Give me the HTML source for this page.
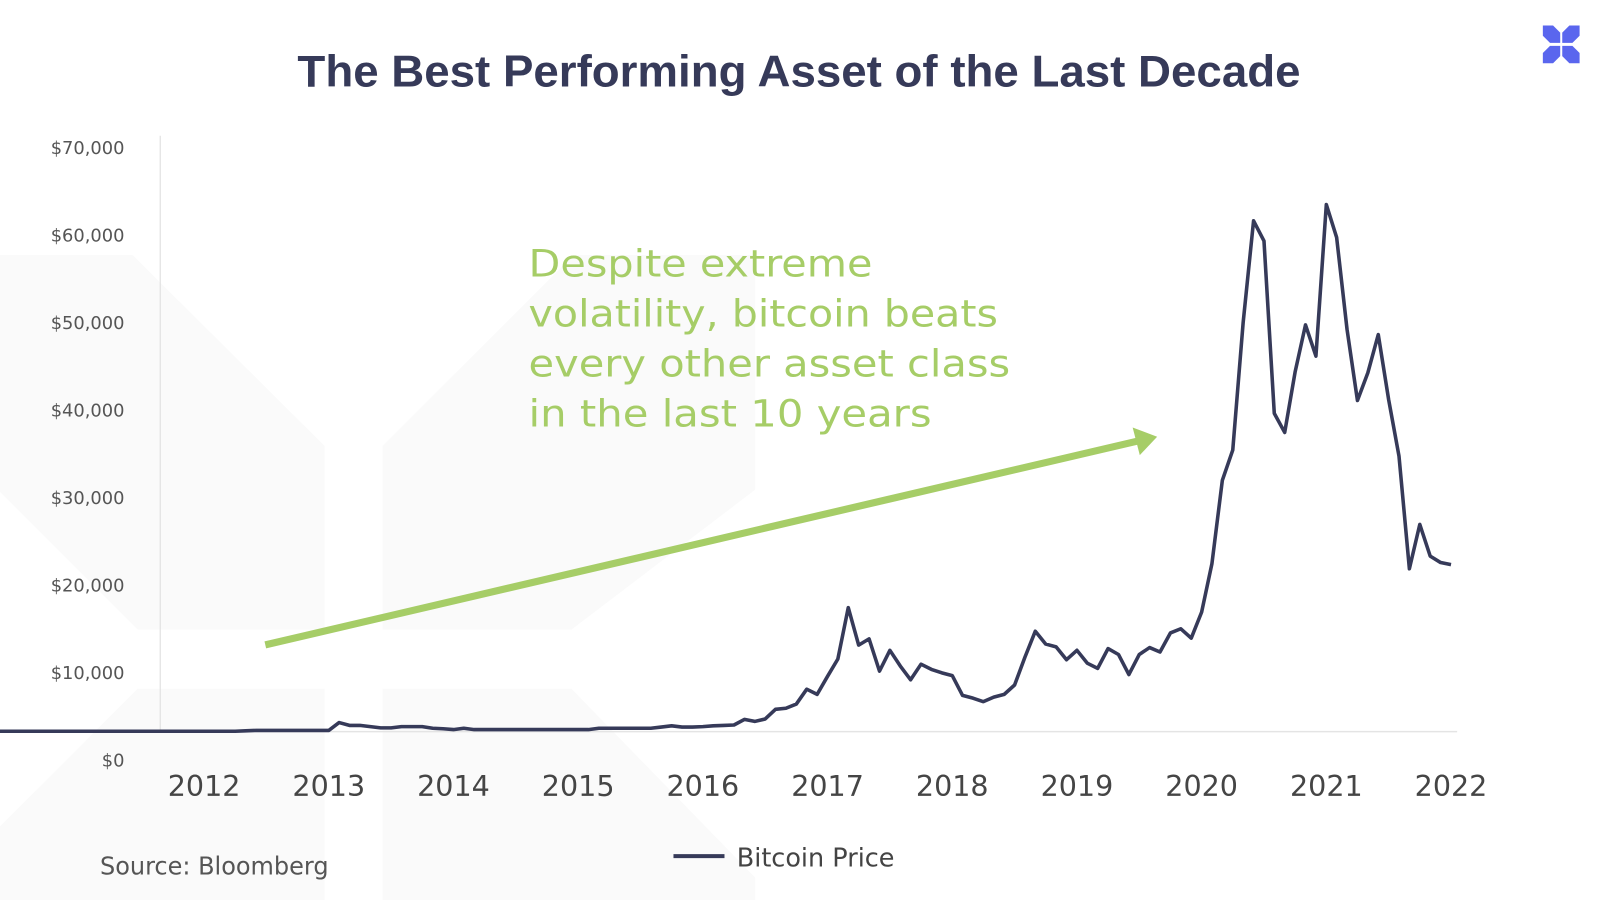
<!DOCTYPE html>
<html><head><meta charset="utf-8"><style>
html,body{margin:0;padding:0;background:#fff;}
svg{display:block;}
</style></head><body>
<svg id="chart" width="1600" height="900" viewBox="0 0 1568 882" xmlns="http://www.w3.org/2000/svg">
<g fill="#fafafa">
  <polygon points="0,250 130,250 318,437 318,617 135,617 0,482"/>
  <polygon points="375,437 562,250 740,250 740,480 560,617 375,617"/>
  <polygon points="135,675 318,675 318,882 0,882 0,810"/>
  <polygon points="375,675 560,675 740,860 740,882 375,882"/>
</g>
<text x="783" y="85" text-anchor="middle" font-family="Liberation Sans, sans-serif" font-weight="bold" font-size="44" fill="#363a59" textLength="983" lengthAdjust="spacingAndGlyphs">The Best Performing Asset of the Last Decade</text>
<g fill="#5a66ee">
  <polygon points="1512,25 1522,25 1529,32 1529,42 1519,42 1512,35"/>
  <polygon points="1548,25 1538,25 1531,32 1531,42 1541,42 1548,35"/>
  <polygon points="1512,62 1522,62 1529,55 1529,45 1519,45 1512,52"/>
  <polygon points="1548,62 1538,62 1531,55 1531,45 1541,45 1548,52"/>
</g>
<line x1="157" y1="133" x2="157" y2="717" stroke="#dddddd" stroke-width="1"/>
<line x1="0" y1="717" x2="1428" y2="717" stroke="#e4e4e4" stroke-width="1.5"/>
<g id="yticks"></g>
<g id="xticks"></g>
<g font-family="DejaVu Sans, sans-serif" font-size="37" fill="#a6cd67">
  <text x="518" y="271" textLength="337" lengthAdjust="spacingAndGlyphs">Despite extreme</text>
  <text x="518" y="320" textLength="460" lengthAdjust="spacingAndGlyphs">volatility, bitcoin beats</text>
  <text x="518" y="369" textLength="472" lengthAdjust="spacingAndGlyphs">every other asset class</text>
  <text x="518" y="418" textLength="395" lengthAdjust="spacingAndGlyphs">in the last 10 years</text>
</g>
<g>
  <line x1="260" y1="632" x2="1116" y2="432" stroke="#a6cd67" stroke-width="7"/>
  <polygon points="1134,428 1110,419 1117,446" fill="#a6cd67"/>
</g>
<path id="series" fill="none" stroke="#363a59" stroke-width="3.5" stroke-linejoin="round"/>
<g>
  <line x1="660" y1="839" x2="710" y2="839" stroke="#363a59" stroke-width="4"/>
  <text x="722" y="849" font-family="DejaVu Sans, sans-serif" font-size="25" fill="#444">Bitcoin Price</text>
</g>
<text x="98" y="857" font-family="DejaVu Sans, sans-serif" font-size="24" fill="#555" textLength="224" lengthAdjust="spacingAndGlyphs">Source: Bloomberg</text>
</svg>
<script>
// Monthly series starting May 2010 (price in $k, chart units)
const startYear = 2010.333;
const early = [0.05,0.05,0.05,0.05,0.05,0.05,0.05,0.05,0.05,0.05,0.05,0.05,0.05,0.05,0.05,0.05,0.05,0.05,0.05,0.05,0.05,0.05,0.05,0.05,0.1,
  0.15,0.15,0.15,0.15,0.15,0.15,0.15,0.15,
  1.1,0.75,0.75,0.6,0.45,0.45,0.6,0.6,0.6,0.4,0.35,0.25,0.4,0.25,
  0.25,0.25,0.25,0.25,0.25,0.25,0.25,0.25,0.25,0.25,0.25,
  0.4,0.4,0.4,0.4,0.4,0.4,0.55,0.7,0.55,0.55,0.6,0.7,0.75,0.8];
const late = [1.48,1.23,1.53,2.69,2.82,3.32,5.12,4.49,6.67,8.76,14.94,10.43,11.18,7.29,9.80,7.92,6.25,8.13,7.50,7.08,6.75,4.37,4.03,3.62,4.16,4.49,5.62,8.97,12.10,10.55,10.22,8.67,9.80,8.25,7.63,10.01,9.30,6.88,9.30,10.14,9.59,11.89,12.40,11.27,14.40,20.26,30.30,33.94,49.32,61.57,59.15,38.36,36.06,43.34,49.03,45.26,63.54,59.57,48.49,39.91,43.26,47.86,40.00,33.22,19.63,24.98,21.16,20.38,20.13];
const prices = early.concat(late);
const yearTicks = [2012,2013,2014,2015,2016,2017,2018,2019,2020,2021,2022];
const yTickValues = [0,10000,20000,30000,40000,50000,60000,70000];
const yTickLabels = ["$0","$10,000","$20,000","$30,000","$40,000","$50,000","$60,000","$70,000"];

function xScale(yr){ return 200 + (yr - 2012) * 122.2; }
function yScale(k){ return 717 - k * 8.13; }
function yLabelScale(v){ return 745 - v * 0.008575; }

const NS = "http://www.w3.org/2000/svg";
let d = "";
prices.forEach((p,i)=>{
  const x = xScale(startYear + i/12), y = yScale(p);
  d += (i ? "L" : "M") + x.toFixed(1) + "," + y.toFixed(1);
});
document.getElementById("series").setAttribute("d", d);

const yg = document.getElementById("yticks");
yTickValues.forEach((v,i)=>{
  const t = document.createElementNS(NS,"text");
  
  
  t.setAttribute("x", 122); t.setAttribute("y", yLabelScale(v) + 6);
  t.setAttribute("text-anchor","end");
  t.setAttribute("font-family","DejaVu Sans, sans-serif");
  t.setAttribute("font-size","17.5"); t.setAttribute("fill","#555");
  t.textContent = yTickLabels[i];
  yg.appendChild(t);
});
const xg = document.getElementById("xticks");
yearTicks.forEach(yr=>{
  const t = document.createElementNS(NS,"text");
  
  
  t.setAttribute("x", xScale(yr)); t.setAttribute("y", 780);
  t.setAttribute("text-anchor","middle");
  t.setAttribute("font-family","DejaVu Sans, sans-serif");
  t.setAttribute("font-size","28"); t.setAttribute("fill","#454545");
  t.textContent = yr;
  xg.appendChild(t);
});
</script>
</body></html>
